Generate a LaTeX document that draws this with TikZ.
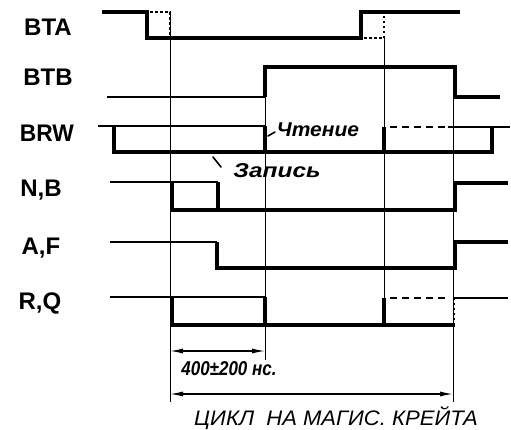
\documentclass[tikz,border=0pt]{standalone}
\usepackage{fontspec}
\setmainfont{Liberation Sans}
\usetikzlibrary{arrows.meta}
\begin{document}
\begin{tikzpicture}[x=1pt,y=-1pt,
  sig/.style={line width=3.2pt, line join=miter, line cap=butt},
  sigthin/.style={line width=2pt, line cap=butt},
  gridline/.style={line width=1pt},
  dotsig/.style={line width=2.2pt, dash pattern=on 2.5pt off 2.5pt},
  dashsig/.style={line width=2.6pt, dash pattern=on 7pt off 5pt},
  tick/.style={line width=1.6pt, line cap=round},
  dim/.style={line width=1.2pt, {Latex[length=13pt,width=5pt]}-{Latex[length=13pt,width=5pt]}},
  lab/.style={inner sep=0pt, font=\fontsize{24}{24}\selectfont\bfseries},
  note/.style={inner sep=0pt, font=\fontsize{20}{20}\selectfont\bfseries\itshape}
]
\useasboundingbox (0,0) rectangle (511,429);

% grid lines
\draw[gridline] (170,12) -- (170,402);
\draw[gridline] (265,67) -- (265,360);
\draw[gridline] (384,38) -- (384,325);
\draw[gridline] (453,67) -- (453,402);

% labels
\node[lab] (lBTA) at (48,27) {\scalebox{1.0}[1]{BTA}};
\node[lab] (lBTB) at (48,77) {\scalebox{1.0}[1]{BTB}};
\node[lab] (lBRW) at (47,133) {\scalebox{0.95}[1]{BRW}};
\node[lab] (lNB) at (41,190) {\scalebox{1.0}[1]{N,B}};
\node[lab] (lAF) at (41,248) {\scalebox{1.0}[1]{A,F}};
\node[lab] (lRQ) at (40,303) {\scalebox{1.0}[1]{R,Q}};

% BTA
\draw[sig] (102,12) -- (147,12) -- (147,38) -- (361,38) -- (361,12) -- (460,12);
\draw[dotsig] (150,12) -- (170,12) -- (170,38);
\draw[dotsig] (364,38) -- (384,38) -- (384,12);

% BTB
\draw[sigthin] (107,97) -- (265,97);
\draw[sig] (265,97) -- (265,67) -- (455,67) -- (455,97) -- (500,97);

% BRW
\draw[sigthin] (98,126) -- (265,126);
\draw[sig] (265,126) -- (265,152);
\draw[sig] (114,126) -- (114,152) -- (492,152) -- (492,127);
\draw[sig] (384,152) -- (384,127);
\draw[dashsig] (390,127) -- (446,127);
\draw[sigthin] (448,127) -- (510,127);

% N,B
\draw[sigthin] (110,182) -- (218,182);
\draw[sig] (172,182) -- (172,210);
\draw[sig] (218,182) -- (218,210);
\draw[sig] (170,210) -- (455,210) -- (455,183) -- (508,183);

% A,F
\draw[sigthin] (110,242) -- (217,242);
\draw[sig] (217,242) -- (217,268) -- (455,268) -- (455,242) -- (508,242);

% R,Q
\draw[sigthin] (110,297) -- (265,297);
\draw[sig] (172,297) -- (172,325) -- (265,325);
\draw[sig] (265,297) -- (265,325) -- (455,325);
\draw[sig] (384,325) -- (384,298);
\draw[dashsig] (390,298) -- (448,298);
\draw[dotsig] (454,325) -- (454,298);
\draw[sigthin] (453,298) -- (508,298);

% notes
\node[note] (tread) at (318,130) {\scalebox{1.05}[1]{Чтение}};
\draw[tick] (268,136) -- (275,132);
\node[note] (twrite) at (277,171) {\scalebox{1.22}[1]{Запись}};
\draw[tick] (213,157) -- (221,167);

% dimensions
\coordinate (d1a) at (170,351);
\coordinate (d1b) at (265,351);
\draw[dim] (d1a) -- (d1b);
\node[note, font=\fontsize{20}{20}\selectfont\bfseries\itshape] (t400) at (229,369) {\scalebox{0.85}[1]{400±200 нс.}};
\coordinate (d2a) at (170,394);
\coordinate (d2b) at (453,394);
\draw[dim] (d2a) -- (d2b);
\node[inner sep=0pt, anchor=base, font=\fontsize{21}{21}\selectfont\itshape] (tcyc) at (336,425) {\scalebox{1.05}[1]{ЦИКЛ\ \ НА МАГИС. КРЕЙТА}};
\end{tikzpicture}
\end{document}
